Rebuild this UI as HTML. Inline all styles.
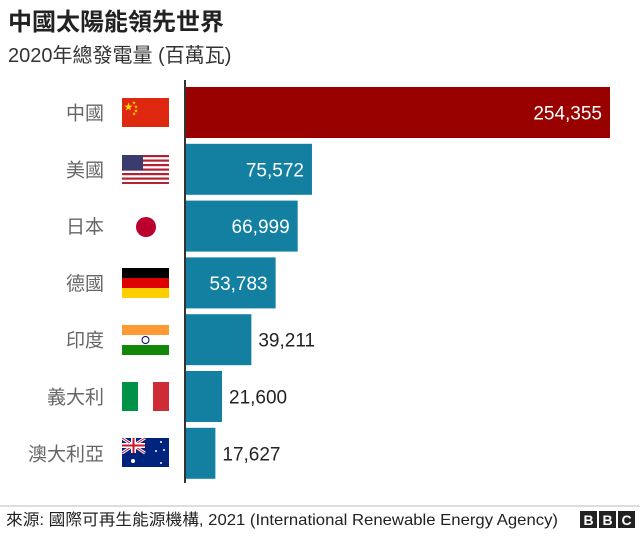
<!DOCTYPE html>
<html><head><meta charset="utf-8"><style>
body{margin:0;width:640px;height:532px;background:#fff;overflow:hidden;font-family:"Liberation Sans","Noto Sans CJK TC",sans-serif;}
</style></head><body>
<svg id="c" width="640" height="532" xmlns="http://www.w3.org/2000/svg">
<text x="8" y="30" font-size="24" font-weight="bold" fill="#222" font-family="Liberation Sans, Noto Sans CJK TC, sans-serif">中國太陽能領先世界</text>
<text x="8" y="62" font-size="20" fill="#333" font-family="Liberation Sans, Noto Sans CJK TC, sans-serif">2020年總發電量 (百萬瓦)</text>
<g id="bars"></g>
<g id="flags">
 <g><rect x="122" y="98" width="47" height="29" fill="#de2910"/><text x="124" y="110" font-size="9" fill="#ffde00">★</text><text x="132" y="104" font-size="4" fill="#ffde00">★</text><text x="134" y="108" font-size="4" fill="#ffde00">★</text><text x="134" y="112" font-size="4" fill="#ffde00">★</text><text x="132" y="115" font-size="4" fill="#ffde00">★</text></g>
 <g><rect x="122" y="155" width="47" height="29" fill="#fff"/>
  <g fill="#b22234"><rect x="122" y="155" width="47" height="2.2"/><rect x="122" y="159.5" width="47" height="2.2"/><rect x="122" y="164" width="47" height="2.2"/><rect x="122" y="168.5" width="47" height="2.2"/><rect x="122" y="173" width="47" height="2.2"/><rect x="122" y="177.5" width="47" height="2.2"/><rect x="122" y="182" width="47" height="2"/></g>
  <rect x="122" y="155" width="21" height="15.5" fill="#3c3b6e"/></g>
 <circle cx="146" cy="227" r="10" fill="#bc002d"/>
 <g><rect x="122" y="268" width="47" height="10" fill="#000"/><rect x="122" y="278" width="47" height="10" fill="#dd0000"/><rect x="122" y="288" width="47" height="10" fill="#ffce00"/></g>
 <g><rect x="122" y="325" width="47" height="10" fill="#ff9933"/><rect x="122" y="335" width="47" height="10" fill="#fff"/><rect x="122" y="345" width="47" height="10" fill="#138808"/><circle cx="145.5" cy="340" r="3.5" fill="none" stroke="#000080" stroke-width="1"/></g>
 <g><rect x="122" y="382" width="16" height="29" fill="#009246"/><rect x="138" y="382" width="15" height="29" fill="#fff"/><rect x="153" y="382" width="16" height="29" fill="#ce2b37"/></g>
 <g><rect x="122" y="438" width="47" height="29" fill="#00247d"/><path d="M122 438 L145 453 M145 438 L122 453" stroke="#fff" stroke-width="3"/><path d="M122 438 L145 453 M145 438 L122 453" stroke="#cf142b" stroke-width="1"/><rect x="131" y="438" width="5" height="15" fill="#fff"/><rect x="122" y="443" width="23" height="5" fill="#fff"/><rect x="132.5" y="438" width="2" height="15" fill="#cf142b"/><rect x="122" y="444.5" width="23" height="2" fill="#cf142b"/><g fill="#fff"><circle cx="133" cy="461" r="2"/><circle cx="161" cy="442" r="1"/><circle cx="156" cy="451" r="1"/><circle cx="164" cy="450" r="1"/><circle cx="161" cy="463" r="1"/></g></g>
</g>
<line x1="185" y1="80" x2="185" y2="483" stroke="#333" stroke-width="2"/>
<line x1="0" y1="506" x2="640" y2="506" stroke="#bbb" stroke-width="1"/>
<text x="6" y="525" font-size="16" fill="#222" textLength="552" lengthAdjust="spacingAndGlyphs" font-family="Liberation Sans, Noto Sans CJK TC, sans-serif">來源: 國際可再生能源機構, 2021 (International Renewable Energy Agency)</text>
<g>
 <rect x="580" y="511" width="17" height="17" fill="#222"/><rect x="599" y="511" width="17" height="17" fill="#222"/><rect x="618" y="511" width="17" height="17" fill="#222"/>
 <text x="588.5" y="525" font-size="14" font-weight="bold" fill="#fff" text-anchor="middle">B</text><text x="607.5" y="525" font-size="14" font-weight="bold" fill="#fff" text-anchor="middle">B</text><text x="626.5" y="525" font-size="14" font-weight="bold" fill="#fff" text-anchor="middle">C</text>
</g>
</svg>
<script>
const countries=["中國","美國","日本","德國","印度","義大利","澳大利亞"];
const values=[254355,75572,66999,53783,39211,21600,17627];
const valueLabels=["254,355","75,572","66,999","53,783","39,211","21,600","17,627"];
const ns="http://www.w3.org/2000/svg";
const g=document.getElementById('bars');
const x0=186,x1=610,maxV=254355;
function xs(v){return x0+(v/maxV)*(x1-x0);}
function yb(i){return 87+i*56.8;}
const bh=51;
values.forEach((v,i)=>{
 const r=document.createElementNS(ns,'rect');
 
 
 r.setAttribute('x',x0);r.setAttribute('y',yb(i));
 r.setAttribute('width',xs(v)-x0);r.setAttribute('height',bh);
 r.setAttribute('fill',i===0?'#990000':'#1380a1');
 g.appendChild(r);
 const t=document.createElementNS(ns,'text');
 
 
 const w=xs(v)-x0;const inside=w>80;
 t.setAttribute('x',inside?xs(v)-8:xs(v)+7);
 t.setAttribute('y',yb(i)+bh/2+7);
 t.setAttribute('text-anchor',inside?'end':'start');
 t.setAttribute('font-size','19');
 t.setAttribute('fill',inside?'#fff':'#222');
 t.textContent=valueLabels[i];
 g.appendChild(t);
 const c=document.createElementNS(ns,'text');
 
 
 c.setAttribute('x',104);c.setAttribute('y',yb(i)+bh/2+7);
 c.setAttribute('text-anchor','end');c.setAttribute('font-size','19');
 c.setAttribute('fill','#666');
 c.setAttribute('font-family','Liberation Sans, Noto Sans CJK TC, sans-serif');
 c.textContent=countries[i];
 g.appendChild(c);
});
</script>
</body></html>
